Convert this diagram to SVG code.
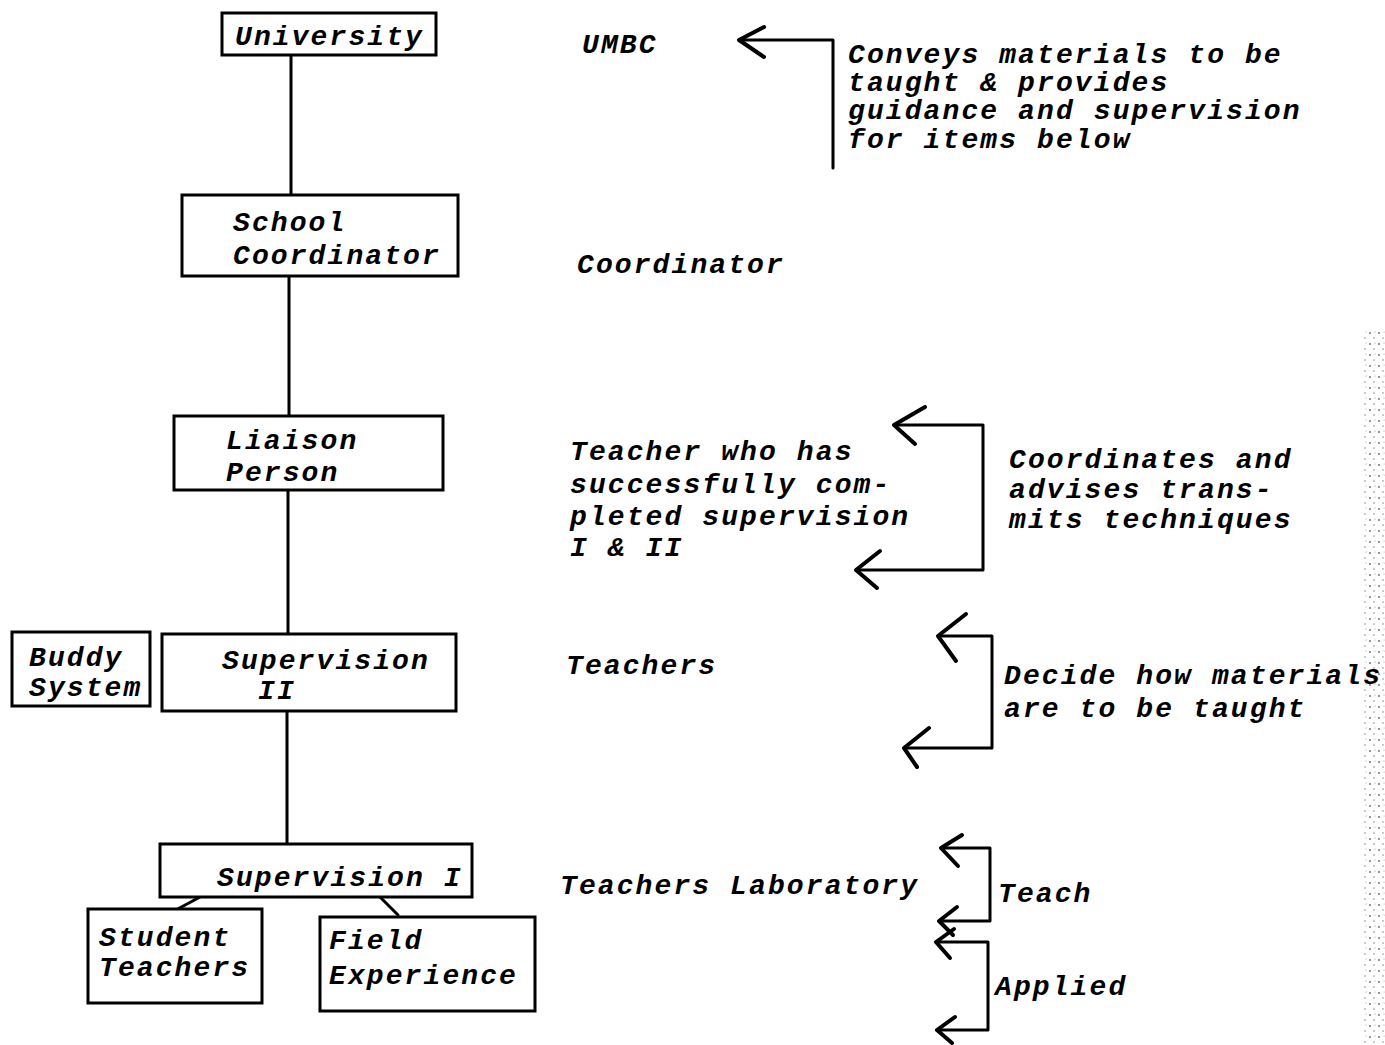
<svg xmlns="http://www.w3.org/2000/svg" width="1385" height="1045" viewBox="0 0 1385 1045">
<defs>
<style>
.box{fill:#fff;stroke:#000;stroke-width:3;stroke-linejoin:miter}
.ln{fill:none;stroke:#000;stroke-width:3;stroke-linecap:round;stroke-linejoin:round}
.hd{fill:none;stroke:#000;stroke-width:4;stroke-linecap:round;stroke-linejoin:round}
text{font-family:"Liberation Mono","Courier New",monospace;font-style:italic;font-weight:bold;font-size:28px;letter-spacing:2.1px;fill:#000}
</style>
<pattern id="noise" width="9" height="11" patternUnits="userSpaceOnUse">
<circle cx="2" cy="3" r="0.9" fill="#666"/><circle cx="6" cy="8" r="0.8" fill="#888"/><circle cx="7" cy="2" r="0.6" fill="#999"/>
</pattern>
</defs>
<rect width="1385" height="1045" fill="#fff"/>
<rect x="1362" y="330" width="23" height="715" fill="url(#noise)"/>

<g id="connectors">
<path class="ln" d="M291,55 V195"/>
<path class="ln" d="M289,276 V416"/>
<path class="ln" d="M288,490 V635"/>
<path class="ln" d="M287,711 V843"/>
<path class="ln" d="M200,897 L174,911"/>
<path class="ln" d="M380,897 L398,915"/>
</g>

<g id="node-university">
<rect class="box" x="222" y="13" width="214" height="42"/>
<text x="235" y="45">University</text>
</g>
<g id="node-school-coordinator">
<rect class="box" x="182" y="195" width="276" height="81"/>
<text x="233" y="231">School</text>
<text x="233" y="264">Coordinator</text>
</g>
<g id="node-liaison">
<rect class="box" x="174" y="416" width="269" height="74"/>
<text x="226" y="449">Liaison</text>
<text x="226" y="481">Person</text>
</g>
<g id="node-buddy">
<rect class="box" x="12" y="632" width="138" height="74"/>
<text x="29" y="666">Buddy</text>
<text x="29" y="696">System</text>
</g>
<g id="node-supervision-2">
<rect class="box" x="162" y="634" width="294" height="77"/>
<text x="222" y="669">Supervision</text>
<text x="258" y="699">II</text>
</g>
<g id="node-supervision-1">
<rect class="box" x="160" y="844" width="312" height="53"/>
<text x="217" y="886">Supervision I</text>
</g>
<g id="node-student-teachers">
<rect class="box" x="88" y="909" width="174" height="94"/>
<text x="99" y="946">Student</text>
<text x="99" y="976">Teachers</text>
</g>
<g id="node-field-experience">
<rect class="box" x="320" y="917" width="215" height="94"/>
<text x="329" y="949">Field</text>
<text x="329" y="984">Experience</text>
</g>

<g id="labels">
<text x="582" y="53">UMBC</text>
<text x="577" y="273">Coordinator</text>
<text x="570" y="460">Teacher who has</text>
<text x="570" y="493">successfully com-</text>
<text x="570" y="525">pleted supervision</text>
<text x="570" y="556">I &amp; II</text>
<text x="566" y="674">Teachers</text>
<text x="560" y="894">Teachers Laboratory</text>
</g>

<g id="brackets">
<path class="ln" d="M740,40 H833 V168"/>
<path class="hd" d="M764,27 L739,40 L764,57"/>
<text x="848" y="63">Conveys materials to be</text>
<text x="848" y="91">taught &amp; provides</text>
<text x="848" y="119">guidance and supervision</text>
<text x="848" y="148">for items below</text>

<path class="ln" d="M894,425 H983 V570 H856"/>
<path class="hd" d="M925,407 L894,425 L915,444"/>
<path class="hd" d="M880,551 L856,570 L877,588"/>
<text x="1009" y="468">Coordinates and</text>
<text x="1009" y="498">advises trans-</text>
<text x="1009" y="528">mits techniques</text>

<path class="ln" d="M938,636 H992 V748 H904"/>
<path class="hd" d="M966,614 L938,636 L956,661"/>
<path class="hd" d="M929,728 L904,748 L917,767"/>
<text x="1004" y="684">Decide how materials</text>
<text x="1004" y="717">are to be taught</text>

<path class="ln" d="M941,848 H990 V921 H939"/>
<path class="hd" d="M962,835 L941,848 L958,866"/>
<path class="hd" d="M957,907 L939,921 L953,935"/>
<text x="998" y="902">Teach</text>

<path class="ln" d="M936,942 H988 V1030 H937"/>
<path class="hd" d="M954,929 L936,942 L950,958"/>
<path class="hd" d="M955,1017 L937,1030 L952,1043"/>
<text x="995" y="995">Applied</text>
</g>
</svg>
